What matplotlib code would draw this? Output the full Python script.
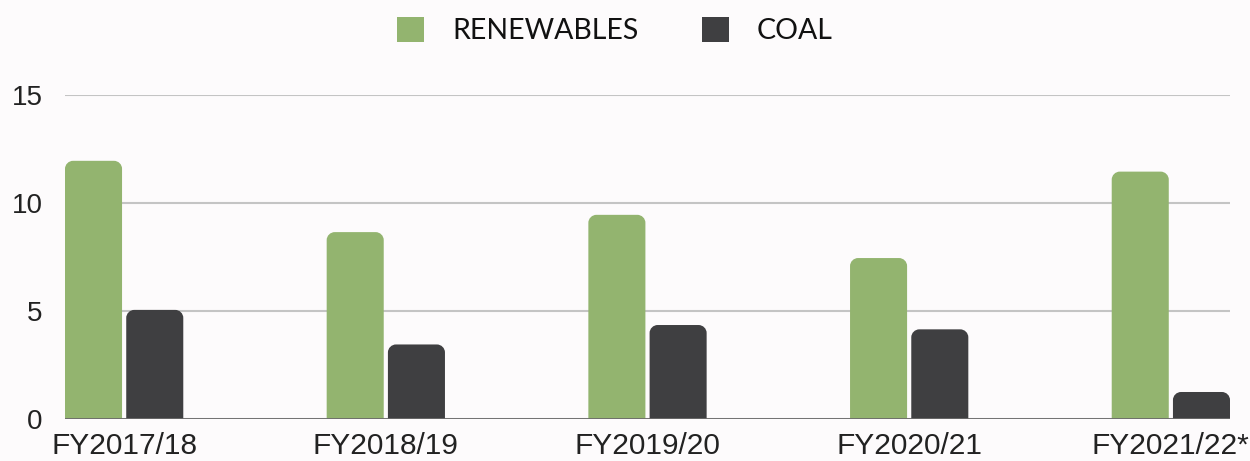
import matplotlib
matplotlib.use('Agg')
import matplotlib.pyplot as plt
import numpy as np
from matplotlib.path import Path
from matplotlib.patches import PathPatch, Patch

# data
years = ['FY2017/18', 'FY2018/19', 'FY2019/20', 'FY2020/21', 'FY2021/22*']
renewables = [11.95, 8.65, 9.45, 7.45, 11.45]
coal = [5.05, 3.45, 4.35, 4.15, 1.25]

green = '#93b46f'
dark = '#3f3f41'
bg = '#fdfbfc'

fig = plt.figure(figsize=(12.5, 4.61), dpi=100, facecolor=bg)
ax = fig.add_axes([0.052, 0.0911, 0.932, 0.703], facecolor=bg)

x = np.arange(len(years))
w = 0.218
off = 0.117


def rounded_bar(ax, x0, width, h, color, rx, ry):
    # bar with rounded top corners, square bottom
    k = 0.5523
    x1 = x0 + width
    ry = min(ry, h)
    verts = [(x0, 0), (x0, h - ry),
             (x0, h - ry + k * ry), (x0 + rx - k * rx, h), (x0 + rx, h),
             (x1 - rx, h),
             (x1 - rx + k * rx, h), (x1, h - ry + k * ry), (x1, h - ry),
             (x1, 0), (x0, 0)]
    codes = [Path.MOVETO, Path.LINETO,
             Path.CURVE4, Path.CURVE4, Path.CURVE4,
             Path.LINETO,
             Path.CURVE4, Path.CURVE4, Path.CURVE4,
             Path.LINETO, Path.CLOSEPOLY]
    ax.add_patch(PathPatch(Path(verts, codes), facecolor=color, edgecolor='none', zorder=3))


rx, ry = 0.031, 0.37
for i in x:
    rounded_bar(ax, i - off - w / 2, w, renewables[i], green, rx, ry)
    rounded_bar(ax, i + off - w / 2, w, coal[i], dark, rx, ry)

ax.set_xlim(-off - w / 2, len(years) - 1 + off + w / 2)
ax.set_ylim(0, 15)
ax.set_yticks([0, 5, 10, 15])
ax.grid(axis='y', color='#c4c4c4', linewidth=1.5, zorder=0)
ax.axhline(0, color='#6b6b6b', linewidth=2, zorder=4)
for s in ax.spines.values():
    s.set_visible(False)
ax.tick_params(axis='both', length=0, labelcolor='#222222')
ax.tick_params(axis='y', pad=16, labelsize=20)
ax.tick_params(axis='x', pad=9, labelsize=21.5)
ax.set_xticks(x)
ax.set_xticklabels(years)
for t in ax.get_xticklabels() + ax.get_yticklabels():
    t.set_fontfamily('Liberation Sans')

handles = [Patch(facecolor=green, label='RENEWABLES'), Patch(facecolor=dark, label='COAL')]
fig.legend(handles=handles, loc='upper center', bbox_to_anchor=(0.492, 1.018), ncol=2,
           frameon=False, handlelength=0.95, handleheight=0.95, handletextpad=1.0,
           columnspacing=2.2, labelcolor='#111111',
           prop={'family': 'Lato', 'size': 20.5})

fig.savefig('out.png', dpi=100, facecolor=bg)
